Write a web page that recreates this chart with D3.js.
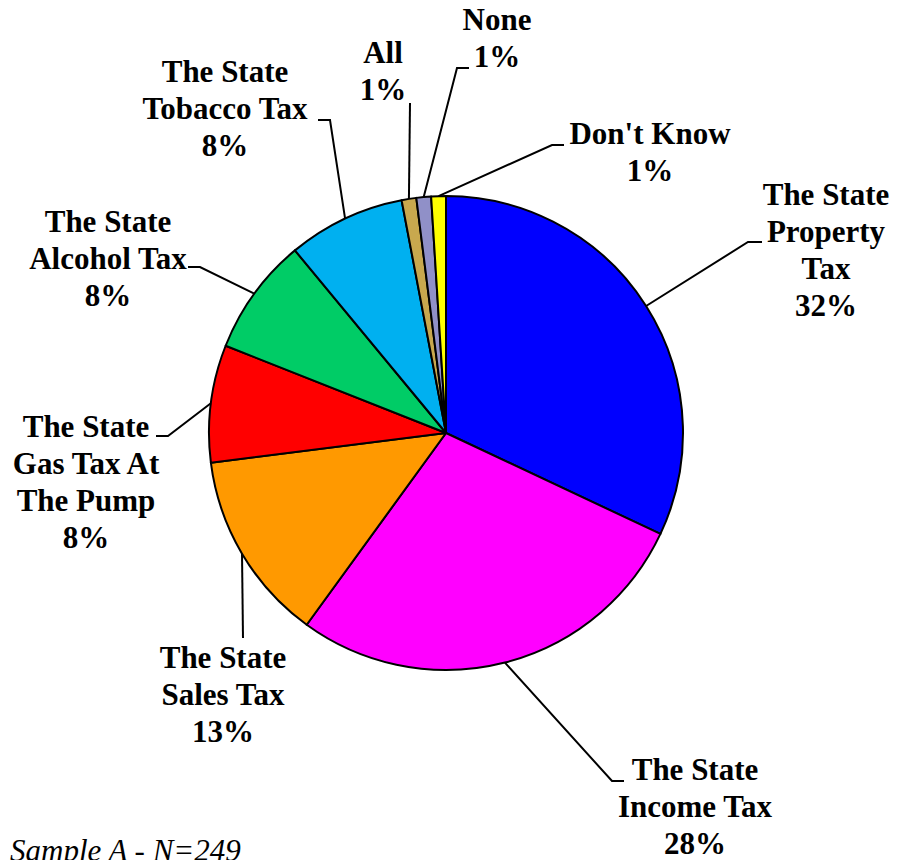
<!DOCTYPE html>
<html>
<head>
<meta charset="utf-8">
<script src="https://cdn.jsdelivr.net/npm/d3@7"></script>
<style>
  html, body { margin: 0; padding: 0; background: #fff; }
  svg { display: block; }
</style>
</head>
<body>
<svg id="chart" width="897" height="860"></svg>
<script>
// ---- Data ----
const categories = [
  "The State Property Tax",
  "The State Income Tax",
  "The State Sales Tax",
  "The State Gas Tax At The Pump",
  "The State Alcohol Tax",
  "The State Tobacco Tax",
  "All",
  "None",
  "Don't Know"
];
const values = [32, 28, 13, 8, 8, 8, 1, 1, 1];
const labelLines = [
  ["The State", "Property", "Tax"],
  ["The State", "Income Tax"],
  ["The State", "Sales Tax"],
  ["The State", "Gas Tax At", "The Pump"],
  ["The State", "Alcohol Tax"],
  ["The State", "Tobacco Tax"],
  ["All"],
  ["None"],
  ["Don't Know"]
];
const colors = ["#0000FF", "#FF00FF", "#FF9900", "#FF0000", "#00CC66", "#00B0F0", "#C8A84E", "#9090C8", "#FFFF00"];
const footnote = "Sample A - N=249";

// ---- Layout (label placement) ----
const cx = 446, cy = 433, R = 237;
const fontSize = 31, lineH = 37;
// [text center x, first baseline y, elbow x, elbow y, leader end x]
const labelLayout = [
  [826, 205, 748, 242, 762],
  [695, 780, 612, 781, 624],
  [223, 668, 243, 638, 243],
  [86, 437, 168, 436, 156],
  [108, 232, 200, 267, 188],
  [225, 82, 330, 120, 318],
  [383, 63, 410, 103, 410],
  [497, 30, 457, 68, 469],
  [650, 144, 552, 145, 564]
];

const svg = d3.select("#chart");
const g = svg.append("g").attr("transform", `translate(${cx},${cy})`);

const pie = d3.pie().sort(null).value(d => d)(values);
const arc = d3.arc().innerRadius(0).outerRadius(R);

g.selectAll("path.slice")
  .data(pie)
  .join("path")
  .attr("class", "slice")
  .attr("d", arc)
  .attr("fill", (d, i) => colors[i])
  .attr("stroke", "#000")
  .attr("stroke-width", 2)
  .attr("stroke-linejoin", "round");

// Leader lines
pie.forEach((d, i) => {
  const mid = (d.startAngle + d.endAngle) / 2;
  const sx = cx + R * Math.sin(mid);
  const sy = cy - R * Math.cos(mid);
  const L = labelLayout[i];
  svg.append("polyline")
    .attr("points", `${sx},${sy} ${L[2]},${L[3]} ${L[4]},${L[3]}`)
    .attr("fill", "none")
    .attr("stroke", "#000")
    .attr("stroke-width", 2);
});

// Labels
pie.forEach((d, i) => {
  const L = labelLayout[i];
  const lines = labelLines[i].concat([d3.format(".0f")(d.data) + "%"]);
  const t = svg.append("text")
    .attr("text-anchor", "middle")
    .attr("font-family", "'Liberation Serif', 'Times New Roman', serif")
    .attr("font-weight", "bold")
    .attr("font-size", fontSize)
    .attr("fill", "#000");
  lines.forEach((ln, k) => {
    t.append("tspan").attr("x", L[0]).attr("y", L[1] + k * lineH).text(ln);
  });
});

// Footnote
svg.append("text")
  .attr("x", 10).attr("y", 861)
  .attr("font-family", "'Liberation Serif', 'Times New Roman', serif")
  .attr("font-style", "italic")
  .attr("font-size", 31)
  .attr("fill", "#000")
  .text(footnote);
</script>
</body>
</html>
